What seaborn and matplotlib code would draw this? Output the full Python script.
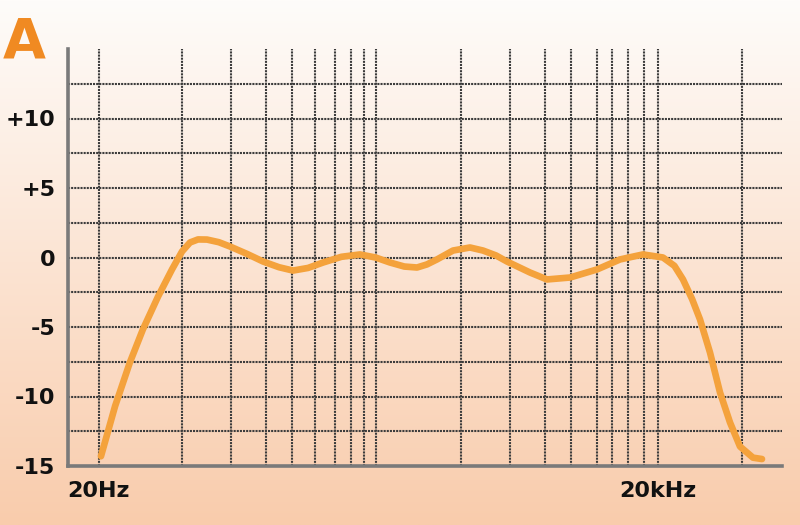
import numpy as np
import pandas as pd
import matplotlib
matplotlib.use("Agg")
import matplotlib.pyplot as plt
import seaborn as sns
from matplotlib import font_manager as fm

# ---- data ----
freq_hz = [20.5, 24.4, 29.3, 34.4, 41.5, 49.3, 55.8, 61.6, 68.0, 76.0, 88.0, 101, 125, 152,
           185, 220, 265, 319, 400, 503, 610, 729, 870, 1018, 1150, 1303, 1588, 1959, 2302,
           2700, 3096, 4114, 5074, 6744, 9415, 12510, 16620, 21270, 24500, 27240, 30500,
           33620, 38020, 43040, 48700, 55100, 64700, 72300]
level_db = [-14.3, -10.7, -7.55, -5.18, -2.81, -0.86, 0.43, 1.08, 1.3, 1.29, 1.1, 0.79, 0.25, -0.29,
            -0.7, -0.94, -0.75, -0.36, 0.05, 0.22, 0.0, -0.36, -0.65, -0.72, -0.5, -0.14, 0.5, 0.72, 0.5,
            0.15, -0.29, -1.08, -1.58, -1.44, -0.86, -0.14, 0.22, 0.0, -0.6, -1.58, -3.0,
            -4.46, -6.83, -9.71, -11.87, -13.6, -14.4, -14.5]

grid_freqs = [20, 56, 102, 158, 217, 289, 370, 450, 529, 613,
              1750, 3210, 4950, 6830, 9420, 11300, 13800, 16800, 20000, 56500]
db_gridlines = [-12.5, -10, -7.5, -5, -2.5, 0, 2.5, 5, 7.5, 10, 12.5]
y_ticks = [10, 5, 0, -5, -10, -15]
y_ticklabels = ["+10", "+5", "0", "-5", "-10", "-15"]
x_ticks = [20, 20000]
x_ticklabels = ["20Hz", "20kHz"]
panel_label = "A"

df = pd.DataFrame({"freq": freq_hz, "db": level_db})

sns.set_theme(style="white")
plt.rcParams["font.family"] = ["DejaVu Sans"]

fig = plt.figure(figsize=(8, 5.25), dpi=100)

# background gradient
bg = fig.add_axes([0, 0, 1, 1], zorder=-10)
top = np.array([254, 252, 250]) / 255
bot = np.array([249, 204, 172]) / 255
t = np.linspace(0, 1, 256)[:, None]
grad = top[None, :] * (1 - t) + bot[None, :] * t
grad = np.repeat(grad[:, None, :], 2, axis=1)
bg.imshow(grad, aspect="auto", extent=[0, 1, 0, 1], origin="upper")
bg.axis("off")

ax = fig.add_axes([68 / 800, 1 - 466 / 525, (782 - 68) / 800, (466 - 49) / 525])
ax.set_facecolor("none")
ax.set_xscale("log")
ax.set_xlim(13.64, 92580)
ax.set_ylim(-15, 15)

grid_kw = dict(color="#3c3c3c", lw=1.5, ls=(0, (1.0, 0.5)), zorder=1)
for f in grid_freqs:
    ax.axvline(f, **grid_kw)
for d in db_gridlines:
    ax.axhline(d, **grid_kw)

sns.lineplot(data=df, x="freq", y="db", ax=ax, color="#F4A23C", lw=4.8,
             estimator=None, zorder=3, solid_capstyle="round", solid_joinstyle="round")

for s in ["top", "right"]:
    ax.spines[s].set_visible(False)
for s in ["left", "bottom"]:
    ax.spines[s].set_color("#7a7a7a")
    ax.spines[s].set_linewidth(2.6)

ax.set_xticks(x_ticks)
ax.set_xticklabels(x_ticklabels)
ax.xaxis.set_minor_locator(matplotlib.ticker.NullLocator())
ax.set_yticks(y_ticks)
ax.set_yticklabels(y_ticklabels)
ax.tick_params(axis="both", length=0, colors="#111111")
ax.tick_params(axis="y", pad=9)
ax.tick_params(axis="x", pad=11)
for lab in ax.get_xticklabels() + ax.get_yticklabels():
    lab.set_fontproperties(fm.FontProperties(family="DejaVu Sans", weight="bold", size=16))
ax.set_xlabel("")
ax.set_ylabel("")

fig.text(3 / 800, 1 - 57 / 525, panel_label, fontsize=40,
         fontweight="bold", family="DejaVu Sans",
         color="#F08A22", ha="left", va="baseline")

fig.savefig("out.png", dpi=100)
